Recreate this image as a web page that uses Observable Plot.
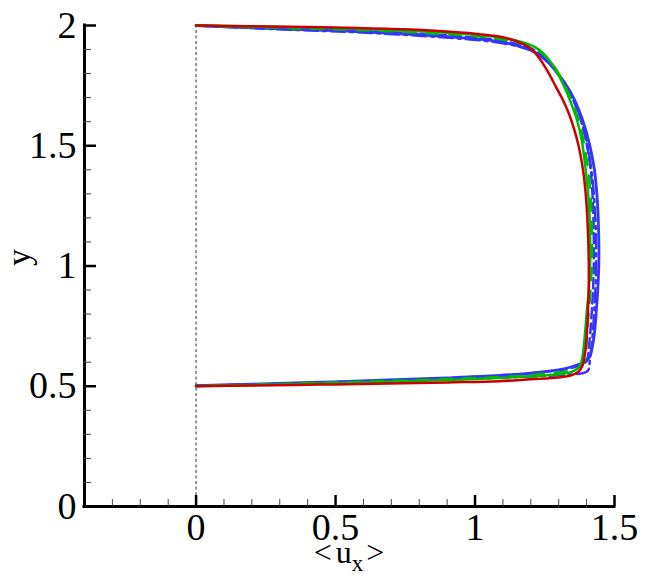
<!DOCTYPE html>
<html>
<head>
<meta charset="utf-8">
<script src="https://cdn.jsdelivr.net/npm/d3@7"></script>
<script src="https://cdn.jsdelivr.net/npm/@observablehq/plot@0.6"></script>
<style>
  html, body { margin: 0; padding: 0; background: #fff; }
</style>
</head>
<body>
<div id="chart"></div>
<script>
// ---- data (x = <u_x>, y) ----
const redSolid = [[0,2.000],[0.2,1.997],[0.4,1.994],[0.57,1.99],[0.75,1.984],[0.87,1.977],[1.0,1.966],[1.08,1.955],[1.13,1.942],[1.17,1.925],[1.2,1.903],[1.23,1.865],[1.26,1.81],[1.29,1.745],[1.315,1.69],[1.336,1.635],[1.355,1.57],[1.371,1.501],[1.383,1.43],[1.392,1.356],[1.4,1.25],[1.406,1.1],[1.408,0.95],[1.405,0.815],[1.399,0.69],[1.392,0.62],[1.385,0.585],[1.372,0.562],[1.35,0.547],[1.30,0.536],[1.2,0.529],[1.086,0.521],[0.9,0.516],[0.69,0.511],[0.45,0.507],[0.2,0.503],[0,0.5]];
const greenSolid = [[0,2],[0.3,1.994],[0.57,1.986],[0.87,1.972],[1.05,1.956],[1.15,1.937],[1.2,1.918],[1.229,1.9],[1.26,1.865],[1.29,1.815],[1.32,1.745],[1.345,1.675],[1.366,1.605],[1.383,1.52],[1.397,1.397],[1.407,1.28],[1.412,1.15],[1.413,1.023],[1.408,0.9],[1.401,0.815],[1.392,0.69],[1.384,0.615],[1.376,0.585],[1.36,0.567],[1.33,0.555],[1.25,0.545],[1.15,0.538],[1.0,0.53],[0.8,0.523],[0.6,0.516],[0.4,0.51],[0.2,0.505],[0,0.501]];
const greenDashed = [[0,2],[0.3,1.99],[0.57,1.982],[0.87,1.966],[1.05,1.95],[1.15,1.93],[1.2,1.912],[1.24,1.885],[1.27,1.85],[1.3,1.8],[1.33,1.73],[1.355,1.66],[1.375,1.59],[1.392,1.5],[1.405,1.4],[1.415,1.28],[1.419,1.15],[1.419,1.02],[1.414,0.9],[1.407,0.8],[1.401,0.7],[1.396,0.63],[1.388,0.595],[1.37,0.576],[1.33,0.562],[1.25,0.551],[1.15,0.542],[1.0,0.534],[0.8,0.526],[0.6,0.519],[0.4,0.512],[0.2,0.506],[0,0.501]];
const blueSolid = [[0,2],[0.3,1.986],[0.574,1.975],[0.87,1.956],[1.05,1.939],[1.11,1.928],[1.16,1.913],[1.2,1.897],[1.235,1.873],[1.264,1.845],[1.295,1.802],[1.324,1.758],[1.35,1.706],[1.372,1.65],[1.392,1.585],[1.41,1.508],[1.428,1.4],[1.438,1.28],[1.443,1.15],[1.444,1.02],[1.44,0.9],[1.435,0.815],[1.428,0.72],[1.42,0.66],[1.412,0.625],[1.4,0.605],[1.38,0.594],[1.35,0.582],[1.3,0.568],[1.2,0.555],[1.086,0.545],[0.9,0.535],[0.69,0.526],[0.45,0.517],[0.2,0.509],[0,0.502]];
const blueDashed = [[0,2],[0.3,1.989],[0.574,1.979],[0.87,1.961],[1.05,1.944],[1.15,1.924],[1.2,1.905],[1.24,1.876],[1.27,1.842],[1.3,1.797],[1.33,1.742],[1.355,1.682],[1.378,1.612],[1.397,1.525],[1.412,1.425],[1.421,1.3],[1.425,1.17],[1.426,1.02],[1.423,0.9],[1.418,0.8],[1.413,0.72],[1.408,0.66],[1.404,0.62],[1.394,0.598],[1.37,0.585],[1.33,0.572],[1.25,0.56],[1.15,0.549],[1.0,0.539],[0.8,0.529],[0.6,0.521],[0.4,0.513],[0.2,0.507],[0,0.502]];
const blueDashDot = [[0,2],[0.3,1.984],[0.574,1.972],[0.87,1.952],[1.05,1.934],[1.15,1.915],[1.2,1.898],[1.24,1.87],[1.27,1.838],[1.3,1.795],[1.33,1.742],[1.36,1.672],[1.385,1.592],[1.404,1.495],[1.419,1.38],[1.429,1.25],[1.434,1.1],[1.433,0.95],[1.428,0.82],[1.422,0.72],[1.416,0.65],[1.411,0.6],[1.408,0.572],[1.4,0.56],[1.38,0.553],[1.33,0.548],[1.25,0.543],[1.15,0.538],[1.0,0.532],[0.8,0.525],[0.6,0.518],[0.4,0.512],[0.2,0.506],[0,0.502]];

const xTicks = [0, 0.5, 1, 1.5];
const yTicks = [0, 0.5, 1, 1.5, 2];
const xMinor = [-0.3, -0.2, -0.1, 0.1, 0.2, 0.3, 0.4, 0.6, 0.7, 0.8, 0.9, 1.1, 1.2, 1.3, 1.4];
const yMinor = [0.1, 0.2, 0.3, 0.4, 0.6, 0.7, 0.8, 0.9, 1.1, 1.2, 1.3, 1.4, 1.6, 1.7, 1.8, 1.9];
const xDomain = [-0.4, 1.5];
const yDomain = [0, 2];
const xTitle = ["<", "u", "x", ">"];
const yTitle = "y";

// ---- layout ----
const W = 650, H = 578;
const mL = 84, mR = 36, mT = 25, mB = 72;
const plotW = W - mL - mR, plotH = H - mT - mB;
const FONT = "'Liberation Serif', 'Times New Roman', Times, serif";
const RED = "#cc0000", GREEN = "#00bb00", BLUE = "#3535ff";

const line = (data, stroke, extra = {}) =>
  Plot.line(data, {x: d => d[0], y: d => d[1], stroke, strokeWidth: 2.5, curve: "catmull-rom", ...extra});

const plot = Plot.plot({
  width: W, height: H,
  marginLeft: mL, marginRight: mR, marginTop: mT, marginBottom: mB,
  style: {fontFamily: FONT, background: "#fff", color: "#000", overflow: "visible"},
  x: {domain: xDomain},
  y: {domain: yDomain},
  marks: [
    // zero reference line
    Plot.ruleX([0], {y1: yDomain[0], y2: yDomain[1], stroke: "#777", strokeWidth: 1.5, strokeDasharray: "3,2.5"}),
    // profiles
    line(blueSolid, BLUE, {strokeWidth: 2.8}),
    line(blueDashDot, BLUE, {strokeDasharray: "14,5,3,5"}),
    line(blueDashed, BLUE, {strokeDasharray: "10,5"}),
    line(greenDashed, GREEN, {strokeDasharray: "12,11"}),
    line(greenSolid, GREEN),
    line(redSolid, RED),
    // axis lines
    Plot.ruleX([xDomain[0]], {y1: yDomain[0], y2: yDomain[1], stroke: "#000", strokeWidth: 3, strokeLinecap: "square"}),
    Plot.ruleY([yDomain[0]], {x1: xDomain[0], x2: xDomain[1], stroke: "#000", strokeWidth: 3, strokeLinecap: "square"}),
    // inward ticks
    Plot.tickX(xTicks, {x: d => d, insetTop: plotH - 11, stroke: "#000", strokeWidth: 2.5}),
    Plot.tickX(xMinor, {x: d => d, insetTop: plotH - 7, stroke: "#444", strokeWidth: 1}),
    Plot.tickY(yTicks, {y: d => d, insetRight: plotW - 12, stroke: "#000", strokeWidth: 2.5}),
    Plot.tickY(yMinor, {y: d => d, insetRight: plotW - 7, stroke: "#444", strokeWidth: 1}),
    // tick labels
    Plot.axisX({ticks: xTicks, tickSize: 0, tickPadding: 7, fontSize: 38, fontFamily: FONT, tickFormat: d => String(d), label: null}),
    Plot.axisY({ticks: yTicks, tickSize: 0, tickPadding: 8, fontSize: 38, fontFamily: FONT, tickFormat: d => String(d), label: null}),
    // y title
    Plot.text([yTitle], {text: d => d, frameAnchor: "left", dx: -65, rotate: -90, fontSize: 34, fontFamily: FONT, fill: "#000"})
  ]
});

// x title with subscript
const svg = d3.select(plot);
const xs = plot.scale("x");
const cx = (xs.apply(xDomain[0]) + xs.apply(xDomain[1])) / 2;
const t = svg.append("text")
  .attr("x", cx).attr("y", 563)
  .attr("text-anchor", "middle")
  .attr("font-family", FONT).attr("font-size", 32).attr("fill", "#000");
t.append("tspan").text(xTitle[0]);
t.append("tspan").attr("dx", 4).text(xTitle[1]);
t.append("tspan").attr("dy", 8).attr("font-size", 23).text(xTitle[2]);
t.append("tspan").attr("dy", -8).attr("dx", 3).text(xTitle[3]);

document.getElementById("chart").appendChild(plot);
</script>
</body>
</html>
